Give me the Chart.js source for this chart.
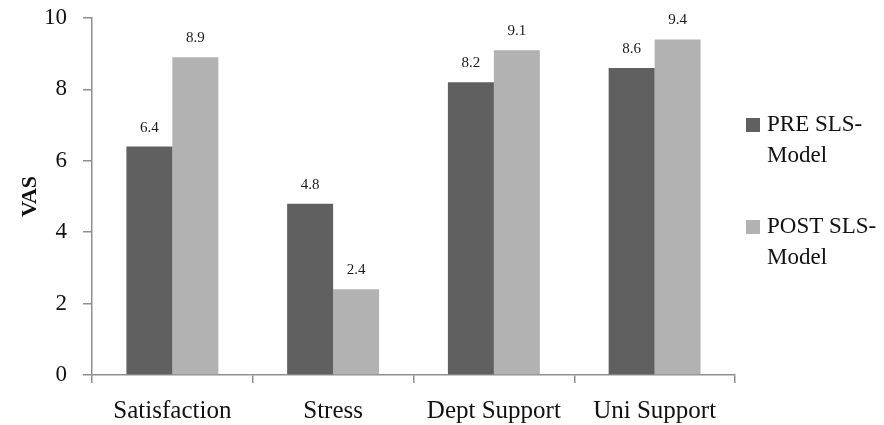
<!DOCTYPE html>
<html>
<head>
<meta charset="utf-8">
<script src="https://cdn.jsdelivr.net/npm/chart.js@4/dist/chart.umd.min.js"></script>
<style>
  html, body { margin: 0; padding: 0; background: #fff; }
  #wrap { position: relative; width: 884px; height: 425px; }
</style>
</head>
<body>
<div id="wrap"><canvas id="c" width="884" height="425"></canvas></div>
<script>
// Categories and mean VAS scores before / after the SLS-Model
const categories = ['Satisfaction', 'Stress', 'Dept Support', 'Uni Support'];
const preValues = [6.4, 4.8, 8.2, 8.6];
const postValues = [8.9, 2.4, 9.1, 9.4];
const seriesNames = [['PRE SLS-', 'Model'], ['POST SLS-', 'Model']];
const yTicks = [0, 2, 4, 6, 8, 10];

const FONT = "'Liberation Serif', 'Times New Roman', serif";
const AXIS = '#8f8f8f';

// Value labels above each bar
const valueLabels = {
  id: 'valueLabels',
  afterDatasetsDraw(chart) {
    const ctx = chart.ctx;
    ctx.save();
    ctx.font = '15px ' + FONT;
    ctx.fillStyle = '#1a1a1a';
    ctx.textAlign = 'center';
    ctx.textBaseline = 'alphabetic';
    chart.data.datasets.forEach((ds, i) => {
      chart.getDatasetMeta(i).data.forEach((bar, j) => {
        ctx.fillText(ds.data[j].toFixed(1), bar.x, bar.y - 15);
      });
    });
    ctx.restore();
  }
};

// Legend at the right with two-line entries
const sideLegend = {
  id: 'sideLegend',
  afterDraw(chart) {
    const ctx = chart.ctx;
    const x0 = chart.chartArea.right + 11;
    ctx.save();
    ctx.font = '23px ' + FONT;
    ctx.textAlign = 'left';
    ctx.textBaseline = 'middle';
    chart.data.datasets.forEach((ds, i) => {
      const yTop = 125 + i * 102;
      ctx.fillStyle = ds.backgroundColor;
      ctx.fillRect(x0, yTop - 7, 14, 14);
      ctx.fillStyle = '#111';
      seriesNames[i].forEach((line, k) => {
        ctx.fillText(line, x0 + 21, yTop + k * 31);
      });
    });
    ctx.restore();
  }
};

new Chart(document.getElementById('c'), {
  type: 'bar',
  data: {
    labels: categories,
    datasets: [
      { label: seriesNames[0].join(''), data: preValues, backgroundColor: '#606060' },
      { label: seriesNames[1].join(''), data: postValues, backgroundColor: '#b2b2b2' }
    ]
  },
  options: {
    responsive: false,
    animation: false,
    layout: { padding: { top: 18, right: 149, bottom: 0, left: 0 } },
    datasets: { bar: { barPercentage: 1.0, categoryPercentage: 0.572 } },
    plugins: { legend: { display: false }, tooltip: { enabled: false } },
    scales: {
      x: {
        grid: { offset: true, drawOnChartArea: false, drawTicks: true, tickLength: 8, color: AXIS, lineWidth: 1.5 },
        border: { color: AXIS, width: 1.5 },
        ticks: { font: { family: FONT, size: 25 }, color: '#111', padding: 13, maxRotation: 0 },
        afterFit(scale) { scale.height = 50; }
      },
      y: {
        min: 0, max: 10,
        afterBuildTicks(scale) { scale.ticks = yTicks.map(v => ({ value: v })); },
        grid: { drawOnChartArea: false, drawTicks: true, tickLength: 9, color: AXIS, lineWidth: 1.5 },
        border: { color: AXIS, width: 1.5 },
        ticks: { font: { family: FONT, size: 23 }, color: '#111', padding: 16 },
        title: { display: true, text: 'VAS', font: { family: FONT, size: 22, weight: 'bold' }, color: '#111', padding: { top: 17, bottom: 0 } },
        afterFit(scale) { scale.width = 92; scale.paddingTop = 0; scale.paddingBottom = 0; }
      }
    }
  },
  plugins: [valueLabels, sideLegend]
});
</script>
</body>
</html>
